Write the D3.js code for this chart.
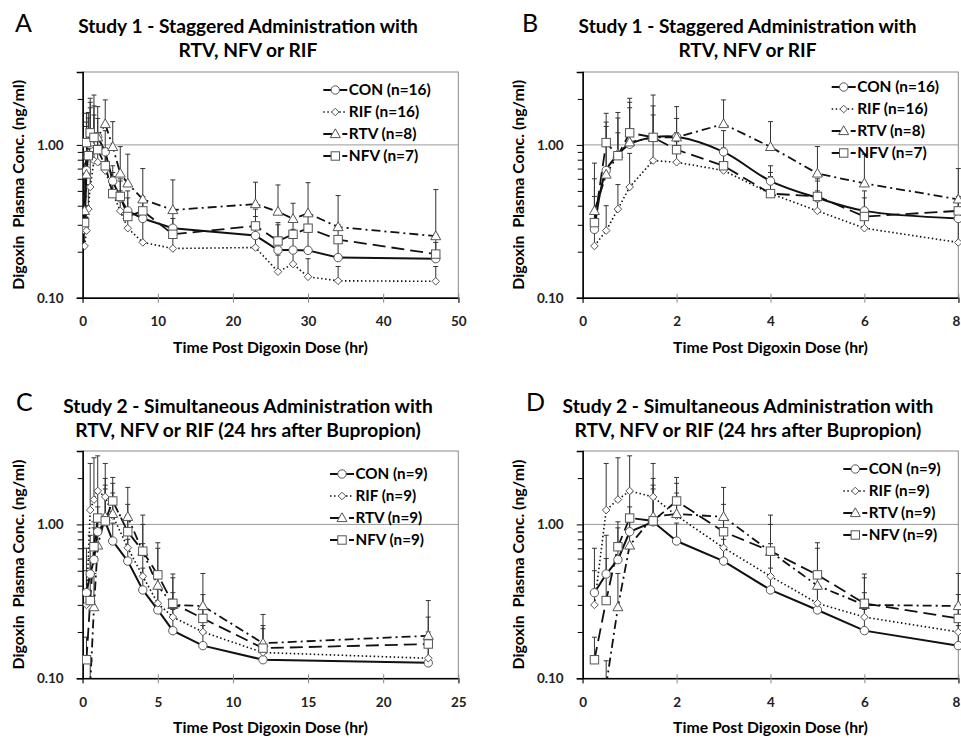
<!DOCTYPE html>
<html>
<head>
<meta charset="utf-8">
<script src="https://cdn.jsdelivr.net/npm/d3@7"></script>
<style>
body { margin: 0; background: #fff; }
svg { font-family: Lato, "Open Sans", sans-serif; }
</style>
</head>
<body>
<svg id="chart" width="961" height="738"></svg>
<script>
// ---- data ----
// Study 1: sampling times (hr)
var study1Times = [0.25, 0.5, 0.75, 1, 1.5, 2, 3, 4, 5, 6, 8, 12, 23, 26, 28, 30, 34, 47];
var study1Con = [0.28, 0.68, 0.86, 1.01, 1.12, 1.13, 0.90, 0.58, 0.45, 0.37, 0.33, 0.285, 0.255, 0.205, 0.205, 0.204, 0.183, 0.18];
var study1ConUp = [0.46, 1.32, 1.20, 1.75, 1.57, 1.49, 1.24, 0.73, 0.60, 0.50, 0.42, 0.38, 0.34, 0.30, 0.28, 0.30, 0.24, 0.23];
var study1Rif = [0.218, 0.275, 0.38, 0.53, 0.79, 0.77, 0.68, 0.48, 0.37, 0.285, 0.23, 0.21, 0.213, 0.148, 0.166, 0.137, 0.129, 0.128];
var study1RifUp = [0.30, 0.40, 0.55, 0.88, 1.10, 1.05, 0.95, 0.66, 0.50, 0.38, 0.32, 0.27, 0.28, 0.19, 0.21, 0.18, 0.16, 0.16];
var study1Rtv = [0.37, 0.64, 0.87, 1.04, 1.12, 1.12, 1.37, 0.97, 0.65, 0.56, 0.44, 0.375, 0.41, 0.366, 0.328, 0.357, 0.29, 0.253];
var study1RtvUp = [0.60, 1.41, 1.50, 1.90, 1.80, 1.78, 1.97, 1.42, 0.975, 0.87, 0.70, 0.59, 0.57, 0.547, 0.415, 0.566, 0.466, 0.51];
var study1Nfv = [0.31, 1.035, 0.85, 1.20, 1.12, 0.93, 0.73, 0.48, 0.46, 0.34, 0.37, 0.26, 0.295, 0.235, 0.26, 0.285, 0.24, 0.193];
var study1NfvUp = [0.76, 1.61, 1.63, 2.02, 2.12, 1.20, 0.95, 0.62, 0.58, 0.45, 0.46, 0.33, 0.38, 0.31, 0.32, 0.36, 0.30, 0.26];
var study1N = [16, 16, 8, 7];

// Study 2: sampling times (hr)
var study2Times = [0.25, 0.5, 0.75, 1, 1.5, 2, 3, 4, 5, 6, 8, 12, 23];
var study2Con = [0.36, 0.476, 0.59, 0.896, 1.04, 0.78, 0.578, 0.375, 0.278, 0.204, 0.163, 0.132, 0.126];
var study2ConUp = [0.70, 0.85, 0.95, 1.30, 1.99, 1.02, 0.80, 0.52, 0.38, 0.28, 0.22, 0.17, 0.16];
var study2Rif = [0.30, 1.24, 1.45, 1.65, 1.51, 1.14, 0.705, 0.46, 0.307, 0.25, 0.20, 0.147, 0.135];
var study2RifUp = [0.50, 2.49, 2.71, 2.79, 2.49, 1.60, 1.15, 0.75, 0.45, 0.36, 0.30, 0.21, 0.20];
var study2Rtv = [null, 0.09, 0.29, 0.73, 1.12, 1.17, 1.12, 0.665, 0.40, 0.30, 0.295, 0.169, 0.189];
var study2RtvUp = [null, 0.13, 0.48, 1.10, 1.80, 2.02, 1.74, 1.15, 0.76, 0.476, 0.48, 0.26, 0.32];
var study2Nfv = [0.132, 0.32, 0.716, 1.10, 1.055, 1.42, 0.896, 0.67, 0.47, 0.307, 0.245, 0.157, 0.167];
var study2NfvUp = [0.185, 0.60, 1.04, 1.60, 1.70, 1.85, 1.35, 1.00, 0.70, 0.45, 0.35, 0.22, 0.25];
var study2N = [9, 9, 9, 9];

var seriesNames = ["CON", "RIF", "RTV", "NFV"];
var study1Title = ["Study 1 - Staggered Administration with", "RTV, NFV or RIF"];
var study2Title = ["Study 2 - Simultaneous Administration with", "RTV, NFV or RIF (24 hrs after Bupropion)"];
var xTitle = "Time Post Digoxin Dose (hr)";
var yTitle = "Digoxin  Plasma Conc. (ng/ml)";
var xTicksA = [0, 10, 20, 30, 40, 50];
var xTicksB = [0, 2, 4, 6, 8];
var xTicksC = [0, 5, 10, 15, 20, 25];
var yMajorTicks = [0.1, 1];
var yMinorTicks = [0.2, 0.3, 0.4, 0.5, 0.6, 0.7, 0.8, 0.9, 2, 3];

// ---- styles ----
var seriesStyle = [
    { dash: null, width: 2, marker: "circle" },     // CON
    { dash: "1.5,2.5", width: 1.6, marker: "diamond" }, // RIF
    { dash: "9,4,2,4", width: 1.8, marker: "triangle" }, // RTV
    { dash: "13,6", width: 1.8, marker: "square" }   // NFV
];

var study1Series = [
    { values: study1Con, upper: study1ConUp },
    { values: study1Rif, upper: study1RifUp },
    { values: study1Rtv, upper: study1RtvUp },
    { values: study1Nfv, upper: study1NfvUp }
];
var study2Series = [
    { values: study2Con, upper: study2ConUp },
    { values: study2Rif, upper: study2RifUp },
    { values: study2Rtv, upper: study2RtvUp },
    { values: study2Nfv, upper: study2NfvUp }
];

var panels = [
    { letter: "A", lx: 15, ly: 32, x0: 82.7, x1: 458.3, top: 72, bottom: 297.7, xMax: 50, ticks: xTicksA,
      title: study1Title, tx: 248, ty: 33.3, tw: 340, times: study1Times, series: study1Series, n: study1N,
      smooth: false, legX: 323.3, legY: 90, legW: 82 },
    { letter: "B", lx: 522, ly: 32, x0: 582.7, x1: 958.3, top: 72, bottom: 297.7, xMax: 8, ticks: xTicksB,
      title: study1Title, tx: 747.5, ty: 33.3, tw: 338, times: study1Times, series: study1Series, n: study1N,
      smooth: true, legX: 831.7, legY: 87, legW: 82 },
    { letter: "C", lx: 16, ly: 411, x0: 82.7, x1: 458.3, top: 451, bottom: 678.3, xMax: 25, ticks: xTicksC,
      title: study2Title, tx: 248, ty: 413.3, tw: 370, times: study2Times, series: study2Series, n: study2N,
      smooth: false, legX: 330, legY: 474, legW: 72 },
    { letter: "D", lx: 526, ly: 411, x0: 582.7, x1: 958.3, top: 451, bottom: 678.3, xMax: 8, ticks: xTicksB,
      title: study2Title, tx: 748, ty: 413.3, tw: 371, times: study2Times, series: study2Series, n: study2N,
      smooth: false, legX: 843.3, legY: 469, legW: 72 }
];

var svg = d3.select("#chart");

function fitText(sel, target) {
    var w = sel.node().getComputedTextLength();
    var fs = parseFloat(sel.style("font-size"));
    var nfs = fs * target / w;
    sel.style("font-size", nfs + "px");
    return nfs;
}

function drawMarker(g, type, cx, cy) {
    var m;
    if (type == "circle") {
        m = g.append("circle").attr("cx", cx).attr("cy", cy).attr("r", 4.2);
    } else if (type == "square") {
        m = g.append("rect").attr("x", cx - 4.2).attr("y", cy - 4.2).attr("width", 8.4).attr("height", 8.4);
    } else if (type == "diamond") {
        m = g.append("path").attr("d", "M" + cx + "," + (cy - 3.8) + "L" + (cx + 3.8) + "," + cy +
            "L" + cx + "," + (cy + 3.8) + "L" + (cx - 3.8) + "," + cy + "Z");
    } else {
        m = g.append("path").attr("d", "M" + cx + "," + (cy - 5.2) + "L" + (cx + 5) + "," + (cy + 3.6) +
            "L" + (cx - 5) + "," + (cy + 3.6) + "Z");
    }
    m.attr("fill", "#fff").attr("stroke", "#555").attr("stroke-width", 1);
}

function drawPanel(p, pi) {
    var g = svg.append("g");
    var x = d3.scaleLinear().domain([0, p.xMax]).range([p.x0, p.x1]);
    var y = d3.scaleLog().domain([0.1, 3]).range([p.bottom, p.top]);

    // panel letter + title
    g.append("text").attr("x", p.lx).attr("y", p.ly).style("font-size", "25px").text(p.letter);
    var t1 = g.append("text").attr("x", p.tx).attr("y", p.ty).attr("text-anchor", "middle")
        .style("font-weight", "bold").style("font-size", "17px").text(p.title[0]);
    var fs = fitText(t1, p.tw);
    g.append("text").attr("x", p.tx).attr("y", p.ty + 23.5).attr("text-anchor", "middle")
        .style("font-weight", "bold").style("font-size", fs + "px").text(p.title[1]);

    // frame and the 1.00 gridline
    g.append("rect").attr("x", p.x0).attr("y", p.top).attr("width", p.x1 - p.x0).attr("height", p.bottom - p.top)
        .attr("fill", "none").attr("stroke", "#8a8a8a").attr("stroke-width", 1);
    g.append("line").attr("x1", p.x0).attr("x2", p.x1).attr("y1", y(1)).attr("y2", y(1))
        .attr("stroke", "#999").attr("stroke-width", 1);

    // x axis
    var xa = g.append("g").attr("transform", "translate(0," + p.bottom + ")")
        .call(d3.axisBottom(x).tickValues(p.ticks).tickSize(5).tickFormat(d3.format("d")));
    xa.select(".domain").attr("stroke", "#000").attr("stroke-width", 1.5);
    xa.selectAll(".tick line").attr("y1", -4).attr("stroke", "#888");
    xa.selectAll(".tick text").attr("y", 24).attr("dy", "0.35em")
        .style("font-family", "Lato").style("font-weight", "bold").style("font-size", "13.5px").attr("fill", "#222");
    // keep the last label inside the page when the axis ends at the edge
    if (p.x1 > 950) {
        xa.selectAll(".tick text").filter(function (d) { return d == p.xMax; }).attr("x", -2.5);
    }

    // y axis (log)
    var ya = g.append("g").attr("transform", "translate(" + p.x0 + ",0)")
        .call(d3.axisLeft(y).tickValues(yMajorTicks).tickSize(6).tickFormat(d3.format(".2f")));
    ya.select(".domain").attr("stroke", "#000").attr("stroke-width", 1.5);
    ya.selectAll(".tick text").attr("x", -19)
        .style("font-family", "Lato").style("font-weight", "bold").style("font-size", "13.5px").attr("fill", "#222");
    g.append("g").attr("transform", "translate(" + p.x0 + ",0)")
        .call(d3.axisLeft(y).tickValues(yMinorTicks).tickSize(5).tickFormat(""))
        .select(".domain").remove();

    // axis titles
    var xt = g.append("text").attr("x", (p.x0 + p.x1) / 2).attr("y", p.bottom + 55).attr("text-anchor", "middle")
        .style("font-weight", "bold").style("font-size", "14px").text(xTitle);
    fitText(xt, 195);
    var yt = g.append("text").attr("transform", "translate(" + (p.x0 - 59) + "," + ((p.top + p.bottom) / 2) + ") rotate(-90)")
        .attr("text-anchor", "middle").style("font-weight", "bold").style("font-size", "13px")
        .style("white-space", "pre").text(yTitle);
    fitText(yt, 210);

    // clip for data marks
    g.append("clipPath").attr("id", "clip" + pi).append("rect")
        .attr("x", p.x0).attr("y", p.top).attr("width", p.x1 - p.x0 + 6).attr("height", p.bottom - p.top);
    var plot = g.append("g").attr("clip-path", "url(#clip" + pi + ")");

    p.series.forEach(function (s, si) {
        var st = seriesStyle[si];
        var pts = p.times.map(function (t, k) {
            return { t: t, v: s.values[k], up: s.upper[k] };
        }).filter(function (d) { return d.v != null && d.t <= p.xMax; });

        // upper error bars
        pts.forEach(function (d) {
            var bx = x(d.t);
            plot.append("line").attr("x1", bx).attr("x2", bx).attr("y1", y(d.v)).attr("y2", y(d.up))
                .attr("stroke", "#333").attr("stroke-width", 1);
            plot.append("line").attr("x1", bx - 2.5).attr("x2", bx + 2.5).attr("y1", y(d.up)).attr("y2", y(d.up))
                .attr("stroke", "#333").attr("stroke-width", 1);
        });

        var line = d3.line().x(function (d) { return x(d.t); }).y(function (d) { return y(d.v); });
        if (p.smooth && si == 0) line.curve(d3.curveCatmullRom.alpha(0.5));
        plot.append("path").datum(pts).attr("d", line)
            .attr("fill", "none").attr("stroke", "#111").attr("stroke-width", st.width)
            .attr("stroke-dasharray", st.dash);
    });

    // markers on top
    p.series.forEach(function (s, si) {
        p.times.forEach(function (t, k) {
            if (s.values[k] == null || t > p.xMax) return;
            drawMarker(plot, seriesStyle[si].marker, x(t), y(s.values[k]));
        });
    });

    // legend
    var leg = g.append("g");
    var legFs = null;
    seriesNames.forEach(function (name, si) {
        var st = seriesStyle[si];
        var ry = p.legY + si * 22;
        leg.append("line").attr("x1", p.legX).attr("x2", p.legX + 24).attr("y1", ry).attr("y2", ry)
            .attr("stroke", "#111").attr("stroke-width", st.width).attr("stroke-dasharray", st.dash);
        drawMarker(leg, st.marker, p.legX + 12, ry);
        var lt = leg.append("text").attr("x", p.legX + 25.5).attr("y", ry + 5)
            .style("font-weight", "bold").style("font-size", (legFs || 15) + "px")
            .text(name + " (n=" + p.n[si] + ")");
        if (legFs == null) legFs = fitText(lt, p.legW);
    });
}

panels.forEach(drawPanel);
</script>
</body>
</html>
